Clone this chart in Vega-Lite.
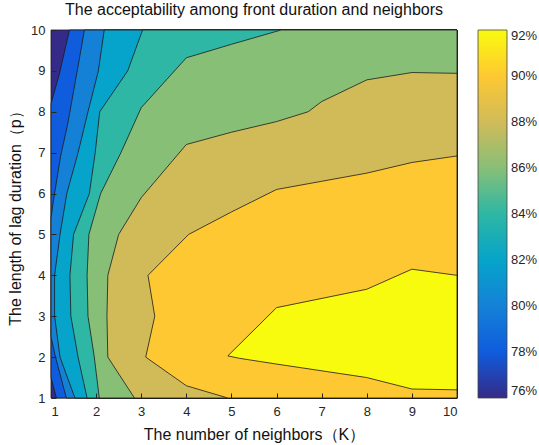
{
  "$schema": "https://vega.github.io/schema/vega-lite/v6.json",
  "width": 406,
  "height": 368,
  "autosize": {"type": "none"},
  "padding": {"left": 51, "top": 30, "right": 82, "bottom": 47},
  "title": {"text": "The acceptability among front duration and neighbors", "fontSize": 16, "fontWeight": "normal", "font": "Liberation Sans", "color": "#111", "offset": 6, "anchor": "middle"},
  "data": {"values": [
    {"p":0,"level":0.76,"o":0,"x":1,"y":1},{"p":0,"level":0.76,"o":1,"x":10,"y":1},{"p":0,"level":0.76,"o":2,"x":10,"y":10},{"p":0,"level":0.76,"o":3,"x":1,"y":10},
    {"p":1,"level":0.78,"o":0,"x":1.41,"y":10},{"p":1,"level":0.78,"o":1,"x":10,"y":10},{"p":1,"level":0.78,"o":2,"x":10,"y":1},{"p":1,"level":0.78,"o":3,"x":1.12,"y":1},{"p":1,"level":0.78,"o":4,"x":1,"y":1.5},{"p":1,"level":0.78,"o":5,"x":1,"y":8.2},{"p":1,"level":0.78,"o":6,"x":1.18,"y":8.9},
    {"p":2,"level":0.80,"o":0,"x":1.74,"y":10},{"p":2,"level":0.80,"o":1,"x":10,"y":10},{"p":2,"level":0.80,"o":2,"x":10,"y":1},{"p":2,"level":0.80,"o":3,"x":1.34,"y":1},{"p":2,"level":0.80,"o":4,"x":1.1,"y":2},{"p":2,"level":0.80,"o":5,"x":1,"y":2.5},{"p":2,"level":0.80,"o":6,"x":1,"y":5.4},{"p":2,"level":0.80,"o":7,"x":1.05,"y":5.8},{"p":2,"level":0.80,"o":8,"x":1.21,"y":6.9},{"p":2,"level":0.80,"o":9,"x":1.37,"y":7.7},{"p":2,"level":0.80,"o":10,"x":1.5,"y":8.5},{"p":2,"level":0.80,"o":11,"x":1.63,"y":9.3},
    {"p":3,"level":0.82,"o":0,"x":2.18,"y":10},{"p":3,"level":0.82,"o":1,"x":10,"y":10},{"p":3,"level":0.82,"o":2,"x":10,"y":1},{"p":3,"level":0.82,"o":3,"x":1.53,"y":1},{"p":3,"level":0.82,"o":4,"x":1.2,"y":2},{"p":3,"level":0.82,"o":5,"x":1.08,"y":3},{"p":3,"level":0.82,"o":6,"x":1.08,"y":4},{"p":3,"level":0.82,"o":7,"x":1.2,"y":5},{"p":3,"level":0.82,"o":8,"x":1.35,"y":6},{"p":3,"level":0.82,"o":9,"x":1.6,"y":7},{"p":3,"level":0.82,"o":10,"x":1.82,"y":8},{"p":3,"level":0.82,"o":11,"x":2.05,"y":9},
    {"p":4,"level":0.84,"o":0,"x":3.03,"y":10},{"p":4,"level":0.84,"o":1,"x":10,"y":10},{"p":4,"level":0.84,"o":2,"x":10,"y":1},{"p":4,"level":0.84,"o":3,"x":1.8,"y":1},{"p":4,"level":0.84,"o":4,"x":1.6,"y":2},{"p":4,"level":0.84,"o":5,"x":1.44,"y":3},{"p":4,"level":0.84,"o":6,"x":1.42,"y":4},{"p":4,"level":0.84,"o":7,"x":1.5,"y":5},{"p":4,"level":0.84,"o":8,"x":1.85,"y":6},{"p":4,"level":0.84,"o":9,"x":1.98,"y":7},{"p":4,"level":0.84,"o":10,"x":2.08,"y":8},{"p":4,"level":0.84,"o":11,"x":2.7,"y":9},
    {"p":5,"level":0.86,"o":0,"x":6.1,"y":10},{"p":5,"level":0.86,"o":1,"x":10,"y":10},{"p":5,"level":0.86,"o":2,"x":10,"y":1},{"p":5,"level":0.86,"o":3,"x":2.07,"y":1},{"p":5,"level":0.86,"o":4,"x":1.96,"y":2},{"p":5,"level":0.86,"o":5,"x":1.82,"y":3},{"p":5,"level":0.86,"o":6,"x":1.8,"y":4},{"p":5,"level":0.86,"o":7,"x":1.84,"y":5},{"p":5,"level":0.86,"o":8,"x":2.1,"y":6},{"p":5,"level":0.86,"o":9,"x":2.55,"y":7},{"p":5,"level":0.86,"o":10,"x":3.0,"y":8.1},{"p":5,"level":0.86,"o":11,"x":4.0,"y":9.32},{"p":5,"level":0.86,"o":12,"x":5.0,"y":9.65},
    {"p":6,"level":0.88,"o":0,"x":10,"y":8.94},{"p":6,"level":0.88,"o":1,"x":10,"y":1},{"p":6,"level":0.88,"o":2,"x":2.85,"y":1},{"p":6,"level":0.88,"o":3,"x":2.26,"y":2},{"p":6,"level":0.88,"o":4,"x":2.24,"y":3},{"p":6,"level":0.88,"o":5,"x":2.26,"y":4},{"p":6,"level":0.88,"o":6,"x":2.5,"y":5},{"p":6,"level":0.88,"o":7,"x":3.0,"y":5.9},{"p":6,"level":0.88,"o":8,"x":4.0,"y":7.2},{"p":6,"level":0.88,"o":9,"x":5.0,"y":7.5},{"p":6,"level":0.88,"o":10,"x":6.0,"y":7.76},{"p":6,"level":0.88,"o":11,"x":6.7,"y":8.0},{"p":6,"level":0.88,"o":12,"x":7.0,"y":8.25},{"p":6,"level":0.88,"o":13,"x":8.0,"y":8.78},{"p":6,"level":0.88,"o":14,"x":9.0,"y":8.96},
    {"p":7,"level":0.90,"o":0,"x":10,"y":6.92},{"p":7,"level":0.90,"o":1,"x":10,"y":1},{"p":7,"level":0.90,"o":2,"x":4.92,"y":1},{"p":7,"level":0.90,"o":3,"x":4.0,"y":1.3},{"p":7,"level":0.90,"o":4,"x":3.1,"y":2},{"p":7,"level":0.90,"o":5,"x":3.3,"y":3},{"p":7,"level":0.90,"o":6,"x":3.15,"y":4},{"p":7,"level":0.90,"o":7,"x":4.05,"y":5},{"p":7,"level":0.90,"o":8,"x":5.0,"y":5.55},{"p":7,"level":0.90,"o":9,"x":6.0,"y":6.1},{"p":7,"level":0.90,"o":10,"x":7.0,"y":6.3},{"p":7,"level":0.90,"o":11,"x":8.0,"y":6.5},{"p":7,"level":0.90,"o":12,"x":9.0,"y":6.76},
    {"p":8,"level":0.92,"o":0,"x":4.92,"y":2.03},{"p":8,"level":0.92,"o":1,"x":6.0,"y":3.21},{"p":8,"level":0.92,"o":2,"x":8.0,"y":3.66},{"p":8,"level":0.92,"o":3,"x":9.0,"y":4.15},{"p":8,"level":0.92,"o":4,"x":10,"y":4.0},{"p":8,"level":0.92,"o":5,"x":10,"y":1.2},{"p":8,"level":0.92,"o":6,"x":9.0,"y":1.22},{"p":8,"level":0.92,"o":7,"x":8.0,"y":1.5},{"p":8,"level":0.92,"o":8,"x":6.0,"y":1.83},{"p":8,"level":0.92,"o":9,"x":5.18,"y":1.97}
  ]},
  "mark": {"type": "line", "interpolate": "linear-closed", "stroke": "#1a1a1a", "strokeWidth": 0.8, "strokeJoin": "round"},
  "encoding": {
    "x": {"field": "x", "type": "quantitative", "scale": {"domain": [1, 10], "nice": false, "zero": false},
      "axis": {"title": "The number of neighbors（K）", "values": [1,2,3,4,5,6,7,8,9,10], "grid": false, "domain": false, "tickSize": -5, "labelPadding": 12, "titlePadding": 8, "zindex": 1}},
    "y": {"field": "y", "type": "quantitative", "scale": {"domain": [1, 10], "nice": false, "zero": false},
      "axis": {"title": "The length of lag duration（p）", "values": [1,2,3,4,5,6,7,8,9,10], "grid": false, "domain": false, "tickSize": -5, "labelPadding": 11, "titlePadding": 7, "zindex": 1}},
    "fill": {"field": "level", "type": "quantitative",
      "scale": {"domain": [0.76, 0.92], "range": ["#352a87", "#0f5cdd", "#1481d6", "#06a4ca", "#2eb7a4", "#87bf77", "#d1bb59", "#fec832", "#f9fb0e"], "interpolate": "rgb"},
      "legend": {"orient": "none", "legendX": 427, "legendY": 0, "title": null, "padding": 0, "gradientLength": 368, "gradientThickness": 29, "values": [0.76,0.78,0.80,0.82,0.84,0.86,0.88,0.90,0.92], "format": ".0%", "labelFontSize": 13, "labelOffset": 4, "gradientStrokeColor": "#444", "gradientStrokeWidth": 0.8, "labelColor": "#262626"}},
    "detail": {"field": "p"},
    "order": {"field": "o"}
  },
  "config": {
    "view": {"stroke": null},
    "font": "Liberation Sans",
    "axis": {"labelFontSize": 13, "titleFontSize": 16, "titleFontWeight": "normal", "labelColor": "#262626", "titleColor": "#111", "tickColor": "#262626", "labelFont": "Liberation Sans", "titleFont": "Liberation Sans"}
  }
}
